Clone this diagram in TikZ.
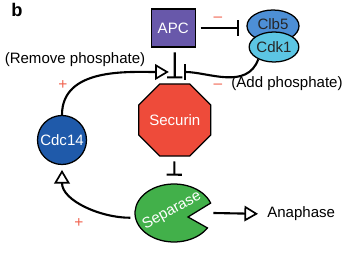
\documentclass[tikz,border=0pt]{standalone}
\usepackage{fontspec}
\setmainfont{Liberation Sans}
\definecolor{apcc}{HTML}{6858AA}
\definecolor{clbc}{HTML}{4D8FD6}
\definecolor{cdkc}{HTML}{5CC6E4}
\definecolor{secc}{HTML}{EE4B3A}
\definecolor{cdcc}{HTML}{1F5AAA}
\definecolor{sepc}{HTML}{42B04A}
\definecolor{sign}{HTML}{F0604C}
\usetikzlibrary{arrows.meta,positioning,shapes.geometric,calc}
\tikzset{
  prot/.style={draw=black,line width=0.9pt,align=center,inner sep=0pt},
  inh/.style={-{Bar[width=3.8mm,line width=1.5pt]},line width=1.5pt},
  act/.style={-{Triangle[open,length=3.4mm,width=3.9mm,line width=1.2pt]},line width=1.5pt},
  sgn/.style={text=sign,font=\fontsize{11}{11}\selectfont}
}
\begin{document}
\begin{tikzpicture}[font=\fontsize{10.7}{12}\selectfont]
    \useasboundingbox (0,0) rectangle (8.65,-6.475);
    \node[font=\fontsize{13}{13}\selectfont\bfseries] (lab) at (0.425,-0.25) {b};
    \node[prot,fill=apcc,text=white,minimum width=1.1cm,minimum height=0.95cm] (apc) at (4.33,-0.7) {APC};
    \node[prot,ellipse,fill=clbc,text=black!85,minimum width=1.3cm,minimum height=0.8cm,text depth=0.12cm] (clb) at (6.825,-0.65) {Clb5};
    \node[prot,ellipse,fill=cdkc,text=black!85,minimum width=1.08cm,minimum height=0.75cm] (cdk) at (6.85,-1.175) {Cdk1};
    \node[prot,regular polygon,regular polygon sides=8,fill=secc,text=white,minimum size=1.68cm] (sec) at (4.37,-3.0) {Securin};
    \node[prot,circle,fill=cdcc,text=white,minimum size=1.225cm] (cdc) at (1.55,-3.5) {Cdc14};
    \node[ellipse,minimum width=1.95cm,minimum height=1.45cm,inner sep=0pt] (sep) at (4.35,-5.325) {};
    \filldraw[fill=sepc,line width=0.9pt] (sep.center) ++(0.35,-0.1) -- ($(sep.center)+(20:0.975 and 0.725)$)
        arc[start angle=20,end angle=329,x radius=0.975cm,y radius=0.725cm] -- cycle;
    \node[text=white,rotate=29] (septxt) at (4.3,-5.27) {Separase};
    \node[anchor=west,inner sep=0pt] (ana) at (6.675,-5.35) {Anaphase};
    \node (rem) at (1.875,-1.5) {(Remove phosphate)};
    \node (add) at (7.175,-2.1) {(Add phosphate)};
    \coordinate (jn) at (4.37,-1.8);
    \draw[inh,shorten <=0.12cm,shorten >=0.18cm] (apc.east) -- (apc.east -| clb.west);
    \draw[inh,shorten <=0.12cm,shorten >=0.12cm] (apc.south -| sec) -- (sec);
    \draw[inh,shorten >=0.23cm] (cdk.218) to[out=-110,in=0] (jn);
    \draw[act,shorten >=0.15cm] (cdc) to[out=90,in=180] (jn);
    \draw[inh,shorten <=0.12cm,shorten >=0.2cm] (sec) -- (sep);
    \draw[act,shorten <=0.12cm,shorten >=0.12cm] (sep.187) to[out=180,in=-90] (cdc);
    \draw[act,shorten >=0.225cm] (sep.east) -- (ana.west);
    \node[sgn] (m1) at (5.45,-0.475) {\textendash};
    \node[sgn] (m2) at (5.45,-2.15) {\textendash};
    \node[sgn] (p1) at (1.575,-2.125) {+};
    \node[sgn] (p2) at (1.975,-5.575) {+};
\end{tikzpicture}
\end{document}
